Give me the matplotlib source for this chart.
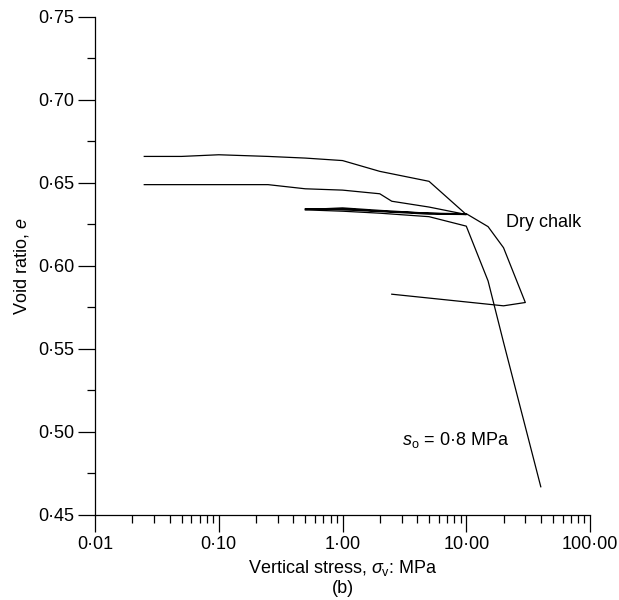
import matplotlib
matplotlib.use('Agg')
import matplotlib.pyplot as plt
from matplotlib.ticker import FixedLocator, FuncFormatter, LogLocator, NullFormatter

plt.rcParams['font.family'] = ['Liberation Sans', 'DejaVu Sans']
plt.rcParams['mathtext.fontset'] = 'custom'
plt.rcParams['mathtext.rm'] = 'Liberation Sans'
plt.rcParams['mathtext.it'] = 'Liberation Sans:italic'

# first loading from e = 0.666, then unloading back
stress_1 = [0.025, 0.05, 0.1, 0.25, 0.5, 1, 2, 5, 10,
            5, 2.5, 2, 1, 0.5, 0.25, 0.1, 0.025]
void_1 = [0.666, 0.666, 0.667, 0.666, 0.665, 0.6635, 0.657, 0.651, 0.631,
          0.6355, 0.639, 0.6435, 0.6457, 0.6465, 0.649, 0.649, 0.649]

# dry chalk reload
stress_dry = [0.5, 1, 2, 5, 10, 5, 2, 1, 0.5, 1, 2, 5, 10, 15, 20, 30, 20, 2.5]
void_dry = [0.6345, 0.6338, 0.6328, 0.6312, 0.6310, 0.6318, 0.6330, 0.6345,
            0.6340, 0.6350, 0.6335, 0.6318, 0.6315, 0.6237, 0.611, 0.578, 0.576, 0.583]

# suction s_o = 0.8 MPa
stress_s = [0.5, 1, 2, 5, 10, 15, 20, 40]
void_s = [0.6338, 0.6330, 0.6318, 0.6297, 0.624, 0.591, 0.554, 0.467]

x_ticks = [0.01, 0.1, 1, 10, 100]
x_labels = ['0·01', '0·10', '1·00', '10·00', '100·00']
y_ticks = [0.45, 0.50, 0.55, 0.60, 0.65, 0.70, 0.75]

fig = plt.figure(figsize=(6.19, 6.0), dpi=100)
ax = fig.add_axes([0.1535, 0.1417, 0.7997, 0.83])

ax.plot(stress_1, void_1, color='black', linewidth=0.9)
ax.plot(stress_dry, void_dry, color='black', linewidth=0.9)
ax.plot(stress_s, void_s, color='black', linewidth=0.9)

ax.text(20.9, 0.626, 'Dry chalk', fontsize=13, ha='left', va='center')
ax.text(3.0, 0.495, '$s_{\\mathrm{o}}$ = 0·8 MPa', fontsize=13, ha='left', va='center')

ax.set_xscale('log')
ax.set_xlim(0.01, 100)
ax.set_ylim(0.45, 0.75)

ax.xaxis.set_major_locator(FixedLocator(x_ticks))
ax.set_xticklabels(x_labels)
ax.xaxis.set_minor_locator(LogLocator(base=10, subs=range(2, 10)))
ax.xaxis.set_minor_formatter(NullFormatter())

ax.yaxis.set_major_locator(FixedLocator(y_ticks))
ax.yaxis.set_major_formatter(FuncFormatter(lambda v, p: f'{v:.2f}'.replace('.', '·')))
ax.yaxis.set_minor_locator(FixedLocator([0.475, 0.525, 0.575, 0.625, 0.675, 0.725]))

ax.tick_params(which='major', direction='out', length=12, width=0.9, labelsize=13, pad=3)
ax.tick_params(which='minor', direction='out', length=5.5, width=0.9)

for side in ['top', 'right']:
    ax.spines[side].set_visible(False)
for side in ['left', 'bottom']:
    ax.spines[side].set_linewidth(0.9)

ax.set_xlabel('Vertical stress, $\\sigma_{\\mathrm{v}}$: MPa\n(b)', fontsize=13,
              linespacing=1.1, labelpad=4)
ax.set_ylabel('Void ratio, $e$', fontsize=13, labelpad=5)

fig.savefig('out.png', dpi=100)
